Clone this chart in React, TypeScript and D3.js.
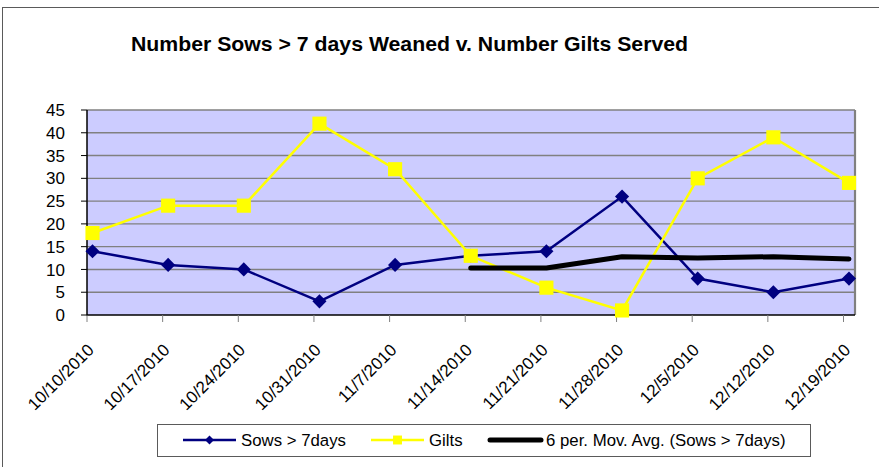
import React from "react";
import * as d3 from "d3";

// weekly dates on the category axis
const weeks = [
  "10/10/2010",
  "10/17/2010",
  "10/24/2010",
  "10/31/2010",
  "11/7/2010",
  "11/14/2010",
  "11/21/2010",
  "11/28/2010",
  "12/5/2010",
  "12/12/2010",
  "12/19/2010",
];

const sows = [14, 11, 10, 3, 11, 13, 14, 26, 8, 5, 8];
const gilts = [18, 24, 24, 42, 32, 13, 6, 1, 30, 39, 29];
// trendline (first five weeks have no value)
const movAvg: (number | null)[] = [null, null, null, null, null, 10.3, 10.3, 12.8, 12.5, 12.8, 12.3];

const yTicks = [0, 5, 10, 15, 20, 25, 30, 35, 40, 45];

const legendItems = [
  { label: "Sows > 7days", kind: "sows", x: 183 },
  { label: "Gilts", kind: "gilts", x: 371 },
  { label: "6 per. Mov. Avg. (Sows > 7days)", kind: "avg", x: 488 },
];

const W = 879;
const H = 467;
const plot = { left: 87, right: 855, top: 110, bottom: 315 };
const markShift = 5.5; // Excel draws the points a little right of the ticks
const font = "Arial, 'Liberation Sans', sans-serif";

const NAVY = "#000080";
const YELLOW = "#FFFF00";

export default function App() {
  const x = d3
    .scalePoint<string>()
    .domain(weeks)
    .range([plot.left, plot.right - 11.5]);
  const y = d3.scaleLinear().domain([0, 45]).range([plot.bottom, plot.top]);

  const px = (i: number) => (x(weeks[i]) as number) + markShift;

  const lineGen = d3
    .line<number | null>()
    .defined((d) => d != null)
    .x((_, i) => px(i))
    .y((d) => y(d as number));

  const diamond = d3.symbol().type(d3.symbolSquare).size(100)();
  const square = d3.symbol().type(d3.symbolSquare).size(200)();
  const smallDiamond = d3.symbol().type(d3.symbolSquare).size(40)();
  const smallSquare = d3.symbol().type(d3.symbolSquare).size(80)();

  return (
    <svg
      width={W}
      height={H}
      style={{ position: "absolute", left: 0, top: 0, display: "block", background: "#fff" }}
      fontFamily={font}
    >
      {/* chart area frame, runs past the picture on the right and bottom */}
      <rect x={2.5} y={7.5} width={W + 20} height={H + 20} fill="#fff" stroke="#5a5a5a" strokeWidth={1} />

      <text
        x={(131 + 688) / 2}
        y={51}
        textAnchor="middle"
        fontSize={21}
        fontWeight="bold"
        textLength={557}
        lengthAdjust="spacingAndGlyphs"
      >
        Number Sows &gt; 7 days Weaned v. Number Gilts Served
      </text>

      {/* plot area */}
      <rect
        x={plot.left}
        y={plot.top}
        width={plot.right - plot.left}
        height={plot.bottom - plot.top}
        fill="#CCCCFF"
      />
      {yTicks.slice(1).map((t) => (
        <line
          key={t}
          x1={plot.left}
          x2={plot.right}
          y1={y(t)}
          y2={y(t)}
          stroke="#808080"
          strokeWidth={1.4}
        />
      ))}
      <line x1={plot.right} x2={plot.right} y1={plot.top} y2={plot.bottom} stroke="#808080" strokeWidth={2.2} />

      {/* y axis */}
      <line x1={plot.left} x2={plot.left} y1={plot.top} y2={plot.bottom + 1} stroke="#000" strokeWidth={1.5} />
      {yTicks.map((t) => (
        <g key={t}>
          <line x1={plot.left - 6} x2={plot.left} y1={y(t)} y2={y(t)} stroke="#000" strokeWidth={1} />
          <text x={65} y={y(t)} dy="0.36em" textAnchor="end" fontSize={17}>
            {t}
          </text>
        </g>
      ))}

      {/* x axis */}
      <line x1={plot.left} x2={plot.right} y1={plot.bottom} y2={plot.bottom} stroke="#000" strokeWidth={1.5} />
      {weeks.map((w) => {
        const tx = x(w) as number;
        return (
          <g key={w}>
            <line x1={tx} x2={tx} y1={plot.bottom} y2={plot.bottom + 7} stroke="#808080" strokeWidth={1} />
            <text
              transform={`translate(${tx + 8},${351}) rotate(-45)`}
              textAnchor="end"
              fontSize={17}
            >
              {w}
            </text>
          </g>
        );
      })}

      {/* series */}
      <path d={lineGen(sows) || ""} fill="none" stroke={NAVY} strokeWidth={2.5} />
      <path d={lineGen(gilts) || ""} fill="none" stroke={YELLOW} strokeWidth={2.5} />
      {sows.map((v, i) => (
        <path key={"s" + i} d={diamond || ""} transform={`translate(${px(i)},${y(v)}) rotate(45)`} fill={NAVY} />
      ))}
      {gilts.map((v, i) => (
        <path key={"g" + i} d={square || ""} transform={`translate(${px(i)},${y(v)})`} fill={YELLOW} />
      ))}
      <path
        d={lineGen(movAvg) || ""}
        fill="none"
        stroke="#000"
        strokeWidth={5}
        strokeLinecap="round"
        strokeLinejoin="round"
      />

      {/* legend */}
      <rect x={157.5} y={424.5} width={653} height={32} fill="#fff" stroke="#5a5a5a" strokeWidth={1} />
      {legendItems.map((it) => (
        <g key={it.kind} transform={`translate(${it.x},440)`}>
          {it.kind === "sows" && (
            <>
              <line x1={0} x2={53} stroke={NAVY} strokeWidth={2.5} />
              <path d={smallDiamond || ""} transform="translate(26.5,0) rotate(45)" fill={NAVY} />
            </>
          )}
          {it.kind === "gilts" && (
            <>
              <line x1={0} x2={53} stroke={YELLOW} strokeWidth={2.5} />
              <path d={smallSquare || ""} transform="translate(26.5,0)" fill={YELLOW} />
            </>
          )}
          {it.kind === "avg" && (
            <line x1={2} x2={53} stroke="#000" strokeWidth={5} strokeLinecap="round" />
          )}
          <text x={58} y={6} fontSize={16.8}>
            {it.label}
          </text>
        </g>
      ))}
    </svg>
  );
}
